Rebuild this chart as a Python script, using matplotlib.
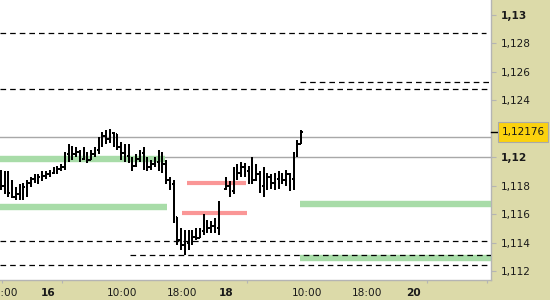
import matplotlib
matplotlib.use('Agg')
import matplotlib.pyplot as plt
from matplotlib.patches import Rectangle

# ---------------- data (30-minute OHLC bars) ----------------
# session 1 (59 bars) followed by session 2 (21 bars)
highs = [1.1191, 1.1190, 1.1190, 1.1184, 1.1179, 1.1181, 1.1182, 1.1184, 1.1186, 1.1188,
         1.1188, 1.1190, 1.1190, 1.1191, 1.1193, 1.1194, 1.1195, 1.1204, 1.1209, 1.1208,
         1.1207, 1.1205, 1.1207, 1.1204, 1.1205, 1.1207, 1.1214, 1.1218, 1.1219, 1.1220,
         1.1218, 1.1216, 1.1211, 1.1209, 1.1209, 1.1200, 1.1202, 1.1205, 1.1207, 1.1200,
         1.1198, 1.1200, 1.1205, 1.1204, 1.1198, 1.1186, 1.1184, 1.1158, 1.1150, 1.1149,
         1.1149, 1.1149, 1.1150, 1.1150, 1.1160, 1.1156, 1.1155, 1.1157, 1.1169,
         1.1186, 1.1183, 1.1193, 1.1195, 1.1197, 1.1196, 1.1194, 1.1200, 1.1195, 1.1190,
         1.1193, 1.1189, 1.1188, 1.1189, 1.1190, 1.1189, 1.1191, 1.1189, 1.1204, 1.1212,
         1.1219]
lows = [1.1177, 1.1174, 1.1172, 1.1171, 1.1170, 1.1170, 1.1170, 1.1172, 1.1179, 1.1182,
        1.1181, 1.1183, 1.1185, 1.1186, 1.1188, 1.1188, 1.1190, 1.1191, 1.1197, 1.1198,
        1.1200, 1.1197, 1.1198, 1.1196, 1.1198, 1.1200, 1.1202, 1.1207, 1.1209, 1.1210,
        1.1207, 1.1205, 1.1198, 1.1197, 1.1196, 1.1190, 1.1193, 1.1197, 1.1191, 1.1190,
        1.1191, 1.1193, 1.1190, 1.1189, 1.1181, 1.1177, 1.1154, 1.1138, 1.1135, 1.1131,
        1.1135, 1.1138, 1.1142, 1.1143, 1.1145, 1.1147, 1.1147, 1.1147, 1.1145,
        1.1177, 1.1172, 1.1174, 1.1184, 1.1186, 1.1186, 1.1181, 1.1181, 1.1183, 1.1175,
        1.1172, 1.1177, 1.1178, 1.1177, 1.1178, 1.1181, 1.1180, 1.1176, 1.1177, 1.1200,
        1.1209]
opens = [1.1188, 1.1180, 1.1176, 1.1175, 1.1172, 1.1174, 1.1172, 1.1179, 1.1182, 1.1185,
         1.1184, 1.1186, 1.1187, 1.1188, 1.1189, 1.1190, 1.1192, 1.1193, 1.1202, 1.1203,
         1.1202, 1.1204, 1.1199, 1.1201, 1.1198, 1.1202, 1.1205, 1.1212, 1.1215, 1.1213,
         1.1217, 1.1216, 1.1207, 1.1203, 1.1201, 1.1198, 1.1194, 1.1199, 1.1203, 1.1196,
         1.1193, 1.1195, 1.1197, 1.1201, 1.1195, 1.1184, 1.1181, 1.1158, 1.1142, 1.1138,
         1.1140, 1.1141, 1.1144, 1.1143, 1.1148, 1.1153, 1.1150, 1.1152, 1.1150,
         1.1178, 1.1180, 1.1176, 1.1188, 1.1189, 1.1193, 1.1190, 1.1191, 1.1184, 1.1188,
         1.1180, 1.1179, 1.1186, 1.1182, 1.1185, 1.1187, 1.1184, 1.1188, 1.1185, 1.1202,
         1.1209]
closes = [1.1180, 1.1176, 1.1175, 1.1172, 1.1174, 1.1172, 1.1179, 1.1182, 1.1185, 1.1184,
          1.1186, 1.1187, 1.1188, 1.1189, 1.1190, 1.1192, 1.1193, 1.1202, 1.1203, 1.1202,
          1.1204, 1.1199, 1.1201, 1.1198, 1.1202, 1.1205, 1.1212, 1.1215, 1.1213, 1.1217,
          1.1216, 1.1207, 1.1203, 1.1201, 1.1198, 1.1194, 1.1199, 1.1203, 1.1196, 1.1193,
          1.1195, 1.1197, 1.1201, 1.1195, 1.1184, 1.1181, 1.1158, 1.1142, 1.1138, 1.1140,
          1.1141, 1.1144, 1.1143, 1.1148, 1.1153, 1.1150, 1.1152, 1.1150, 1.1166,
          1.1180, 1.1176, 1.1188, 1.1189, 1.1193, 1.1190, 1.1191, 1.1184, 1.1188, 1.1180,
          1.1179, 1.1186, 1.1182, 1.1185, 1.1187, 1.1184, 1.1188, 1.1185, 1.1202, 1.1209,
          1.12176]
# bar times in hours from the first bar (half-hour steps, session gap after bar 58)
bar_times = [0.5 * k for k in range(59)] + [30.0 + 0.5 * k for k in range(21)]

last_price = 1.12176
last_label = '1,12176'

y_ticks = [1.112, 1.114, 1.116, 1.118, 1.120, 1.124, 1.126, 1.128, 1.130]
y_labels = ['1,112', '1,114', '1,116', '1,118', '1,12', '1,124', '1,126', '1,128', '1,13']
y_bold = ['1,12', '1,13']

x_tick_marks = [0.13, 8.13, 16.13, 24.13, 32.8, 40.8, 48.8, 56.8, 64.8]
x_label_times = [0.27, 6.27, 16.13, 24.13, 30.0, 40.8, 48.8, 54.93]
x_labels = ['18:00', '16', '10:00', '18:00', '18', '10:00', '18:00', '20']
x_bold = ['16', '18', '20']

gray_levels = [1.1214, 1.1200]
dashed_levels = [1.1287, 1.1253, 1.1248, 1.1141, 1.1131, 1.1124]
dashed_from = [-0.14, 39.87, -0.14, -0.14, 17.2, -0.14]
dashed_to = [64.67, 65.4, 65.4, 65.4, 65.4, 65.4]
green_levels = [1.1199, 1.11647, 1.11672, 1.11289]
green_from = [-0.14, -0.14, 39.87, 39.87]
green_to = [21.87, 22.13, 65.4, 65.4]
red_levels = [1.11819, 1.11605]
red_from = [24.8, 24.13]
red_to = [32.67, 32.8]

# ---------------- figure ----------------
BG = '#dcdaa9'
W, H = 550, 300
fig = plt.figure(figsize=(5.5, 3.0), dpi=100, facecolor=BG)
ax = fig.add_axes([0, 20 / H, 491 / W, 280 / H])
ax.set_facecolor('white')
ax.set_xlim(-0.133, 65.33)
ax.set_ylim(1.11137, 1.131055)

# levels
for lv in gray_levels:
    ax.axhline(lv, color='#a8a8a8', lw=1.0, zorder=1)
for lv, a, b in zip(green_levels, green_from, green_to):
    ax.hlines(lv, a, b, color='#a8dca8', lw=4.6, zorder=2)
for lv, a, b in zip(red_levels, red_from, red_to):
    ax.hlines(lv, a, b, color='#fa9696', lw=3.0, zorder=2)
for lv, a, b in zip(dashed_levels, dashed_from, dashed_to):
    ax.hlines(lv, a, b, color='black', lw=0.9, linestyles=(0, (4.5, 3.2)), zorder=3)

# OHLC bars
tick = 0.22
ax.vlines(bar_times, lows, highs, color='black', lw=1.44, zorder=4, antialiased=False)
ax.hlines(opens, [t - tick for t in bar_times], bar_times, color='black', lw=1.35,
          zorder=4, antialiased=False)
ax.hlines(closes, bar_times, [t + tick for t in bar_times], color='black', lw=1.35,
          zorder=4, antialiased=False)

# spines
for s in ['top', 'left']:
    ax.spines[s].set_visible(False)
for s in ['right', 'bottom']:
    ax.spines[s].set_color('#b4b4b4')
    ax.spines[s].set_linewidth(1.0)

# y axis on right
ax.yaxis.tick_right()
ax.set_yticks(y_ticks)
ax.set_yticklabels(y_labels)
ax.tick_params(axis='y', length=3.6, width=0.8, color='#b4b4b4', pad=3.2,
               labelsize=7.6, labelcolor='#1a1a1a')
for t in ax.get_yticklabels():
    if t.get_text() in y_bold:
        t.set_fontweight('bold')

# x axis
ax.set_xticks(x_label_times)
ax.set_xticklabels(x_labels)
ax.set_xticks(x_tick_marks, minor=True)
ax.tick_params(axis='x', which='major', length=0, pad=5.5, labelsize=7.6, labelcolor='#1a1a1a')
ax.tick_params(axis='x', which='minor', length=2.4, width=0.8, color='#b4b4b4')
for t in ax.get_xticklabels():
    if t.get_text() in x_bold:
        t.set_fontweight('bold')

# last price marker
ytrans = ax.get_yaxis_transform()
ax.plot([1.0, 497 / 491], [last_price, last_price], color='black', lw=1.0,
        transform=ytrans, clip_on=False, zorder=6)
box_h = 20 / 14222
ax.add_patch(Rectangle((498 / 491, last_price - box_h / 2), 50 / 491, box_h,
                       transform=ytrans, facecolor='#fbd20e', edgecolor='#a9a9a9',
                       lw=0.8, clip_on=False, zorder=6))
ax.text(523 / 491, last_price, last_label, transform=ytrans, ha='center', va='center',
        fontsize=7.6, color='#1a1a1a', zorder=7, clip_on=False)

fig.savefig('out.png', dpi=100, facecolor=BG)
